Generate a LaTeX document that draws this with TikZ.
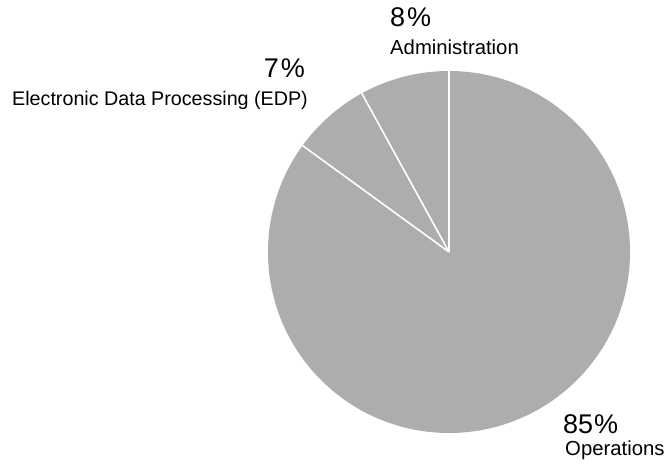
\documentclass[tikz,border=0pt]{standalone}
\usepackage{fontspec}
\setmainfont{Liberation Sans}
\begin{document}
\begin{tikzpicture}[x=1pt,y=1pt,
  pct/.style={inner sep=0pt,font=\fontsize{27}{30}\selectfont},
  lbl/.style={inner sep=0pt,font=\fontsize{20.3}{23}\selectfont},
  sep/.style={white,line width=1.6pt}]
\useasboundingbox (0,0) rectangle (669,467);
\coordinate (c) at (449,215);
\fill[black!32] (c) circle (181);
\draw[sep] (c) -- ++(90:181);
\draw[sep] (c) -- ++(118.8:181);
\draw[sep] (c) -- ++(144:181);
\node[pct,anchor=base west] (p8) at (390,440) {8\kern2pt\%};
\node[lbl,anchor=base west] (admin) at (390,412) {Administration};
\node[pct,anchor=base east] (p7) at (305,389) {7\kern2pt\%};
\node[lbl,anchor=base west,font=\fontsize{19.7}{22}\selectfont] (edp) at (12,362) {Electronic Data Processing (EDP)};
\node[pct,anchor=base west] (p85) at (563,34) {85\kern1pt\%};
\node[lbl,anchor=base west] (ops) at (565,12) {Operations};
\end{tikzpicture}
\end{document}
